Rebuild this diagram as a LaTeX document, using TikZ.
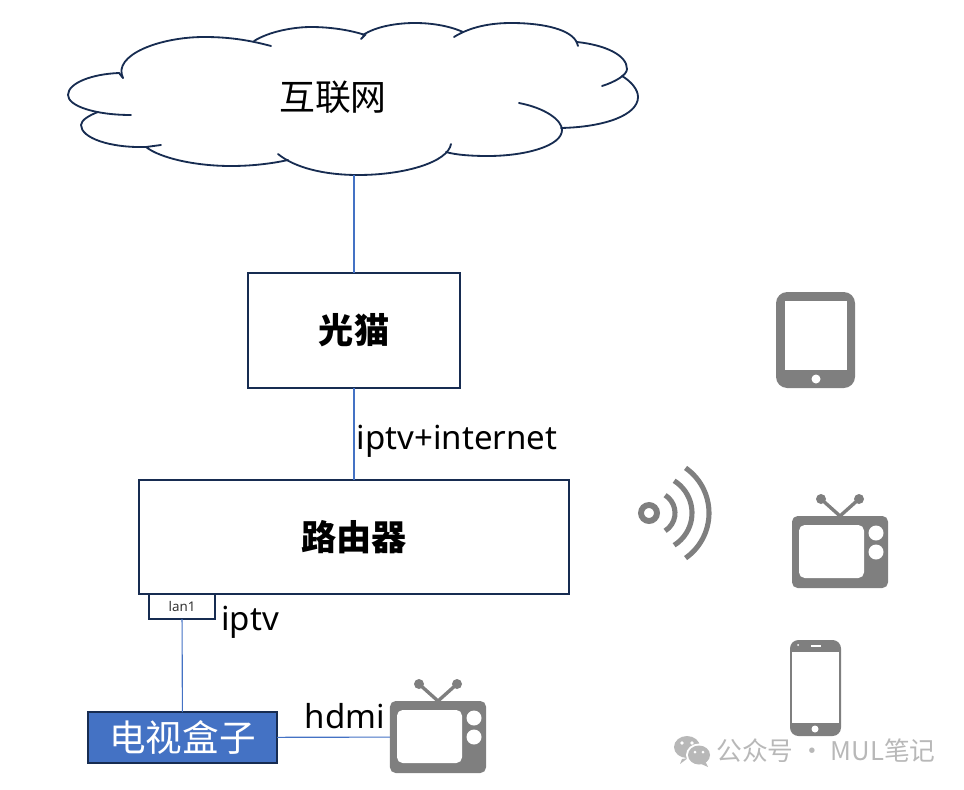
\documentclass[tikz,border=0pt]{standalone}
\usepackage{fontspec}
\setmainfont{Noto Sans}
\newfontfamily\cjk{Noto Sans CJK SC}
\usetikzlibrary{positioning}
\definecolor{navy}{HTML}{172C51}
\definecolor{linkblue}{HTML}{4472C4}
\definecolor{icongray}{HTML}{7F7F7F}
\definecolor{markgray}{HTML}{B8B8B8}

\begin{document}
\begin{tikzpicture}[x=0.025cm,y=-0.025cm]
\tikzset{
  devicebox/.style={rectangle,draw=navy,line width=1.3pt,inner sep=0pt,outer sep=0pt,font={\cjk\bfseries\fontsize{25}{30}\selectfont}},
  tvbody/.style={rectangle,fill=icongray,rounded corners=4pt,minimum width=2.4cm,minimum height=1.8cm,inner sep=0pt,outer sep=0pt},
  link/.style={draw=linkblue,line width=0.8pt},
  cloudline/.style={draw=navy,line width=1.3pt,line cap=round},
  label/.style={inner sep=0pt,font=\fontsize{23.5}{28}\selectfont},
  tvicon/.pic={
    \node[tvbody] (-body) at (0,0) {};
    \fill[white,rounded corners=4pt] (-41,-27) rectangle (24,26);
    \fill[white] (36,-19) circle (7.5) (36,0) circle (7.5);
    \draw[icongray,line width=2.4pt] (-19,-53) -- (0,-36) -- (19,-53);
    \fill[icongray] (-19,-53) circle (5) (19,-53) circle (5);
  }
}
\useasboundingbox (0,0) rectangle (964,789);
% cloud
\draw[cloudline] (123,78) .. controls (112,55) and (160,37) .. (204,37) .. controls (225,37) and (245,39) .. (271,46);
\draw[cloudline] (254,41) .. controls (270,31) and (295,27) .. (311,27) .. controls (330,27) and (350,30) .. (365,35) -- (361,39);
\draw[cloudline] (363,35) .. controls (375,27) and (395,23) .. (415,23) .. controls (435,23) and (452,27) .. (463,32);
\draw[cloudline] (454,37) .. controls (470,27) and (490,23) .. (511,23) .. controls (545,23) and (572,30) .. (577,43) -- (578,46);
\draw[cloudline] (577,42) .. controls (605,45) and (627,55) .. (627,69) .. controls (627,75) and (615,82) .. (602,86);
\draw[cloudline] (622,76) .. controls (632,82) and (638,90) .. (638,97) .. controls (638,115) and (605,127) .. (561,128);
\draw[cloudline] (519,103) .. controls (545,108) and (562,120) .. (562,130) .. controls (562,146) and (525,156) .. (488,156) .. controls (472,156) and (456,155) .. (446,152);
\draw[cloudline] (451,144) .. controls (448,162) and (405,175) .. (358,175) .. controls (325,175) and (295,168) .. (278,154);
\draw[cloudline] (288,160) .. controls (270,164) and (250,166) .. (231,166) .. controls (195,166) and (160,158) .. (146,147) -- (161,145);
\draw[cloudline] (146,147) .. controls (110,148) and (81,138) .. (81,125) .. controls (81,120) and (90,115) .. (98,112);
\draw[cloudline] (131,115) .. controls (95,115) and (68,106) .. (68,95) .. controls (68,83) and (92,74) .. (119,73) -- (123,78);
\node[inner sep=0pt,font={\cjk\fontsize{25.5}{30}\selectfont}] (n_net) at (333,97) {互联网};
\coordinate (n_cloudfoot) at (354,175);
% boxes
\node[devicebox,minimum width=5.3cm,minimum height=2.875cm] (n_modem) at (354,330.5) {\raisebox{-1pt}{光猫}};
\node[devicebox,minimum width=10.75cm,minimum height=2.85cm] (n_router) at (354,537) {\raisebox{-1pt}{路由器}};
\node[devicebox,line width=1.2pt,minimum width=1.65cm,minimum height=0.625cm,font={\fontsize{9.5}{11}\selectfont},text=black!80] (n_lan) at (182,606.5) {lan1};
\node[devicebox,fill=linkblue,minimum width=4.725cm,minimum height=1.275cm,text=white,font={\cjk\fontsize{26}{30}\selectfont}] (n_stb) at (182.5,737.5) {电视盒子};
\pic (n_tvwired) at (438,737) {tvicon};
\pic (n_tvwifi) at (840,552) {tvicon};
% links
\draw[link] (n_cloudfoot) -- (n_modem);
\draw[link] (n_modem) -- (n_router);
\draw[link] (n_lan) -- (n_stb);
\draw[link] (n_stb) -- (n_tvwired-body);
% labels
\node[label] (n_up) at (457,441) {iptv+internet};
\node[label] (n_iptv) at (250,622) {iptv};
\node[label] (n_hdmi) at (345,716) {hdmi};
% wifi
\draw[icongray,line width=4.2pt] (649,513) circle (8);
\draw[icongray,line width=3.6pt] (654,513) ++(-58:21) arc[start angle=-58,end angle=58,radius=21];
\draw[icongray,line width=3.6pt] (654,513) ++(-58:38) arc[start angle=-58,end angle=58,radius=38];
\draw[icongray,line width=3.6pt] (654,513) ++(-55:55) arc[start angle=-55,end angle=55,radius=55];
% tablet
\fill[icongray,rounded corners=8pt] (776,292) rectangle (855,388);
\fill[white] (785,301) rectangle (847,370);
\fill[white] (816,379) circle (4.5);
% phone
\fill[icongray,rounded corners=6pt] (790,640) rectangle (841,736);
\fill[white] (792,652) rectangle (839,723);
\fill[white] (811,645) rectangle (821,647);
\fill[white] (798,645) circle (1);
\fill[white] (815,729) circle (3.5);
% watermark
\fill[markgray] (687,747) ellipse (13 and 11);
\fill[markgray] (682,759) -- (680,764) -- (688,758) -- cycle;
\fill[white] (699,755) ellipse (13 and 11.5);
\fill[markgray] (699,755) ellipse (11 and 9.5);
\fill[markgray] (705,761) -- (708,767) -- (699,763) -- cycle;
\fill[white] (682,743) circle (1.9) (692,743) circle (1.9) (695,752) circle (1.5) (703,752) circle (1.5);
\node[inner sep=0pt,text=markgray,font={\cjk\fontsize{18.3}{22}\selectfont}] (n_mark) at (826,751) {公众号 · MUL笔记};
\end{tikzpicture}
\end{document}
